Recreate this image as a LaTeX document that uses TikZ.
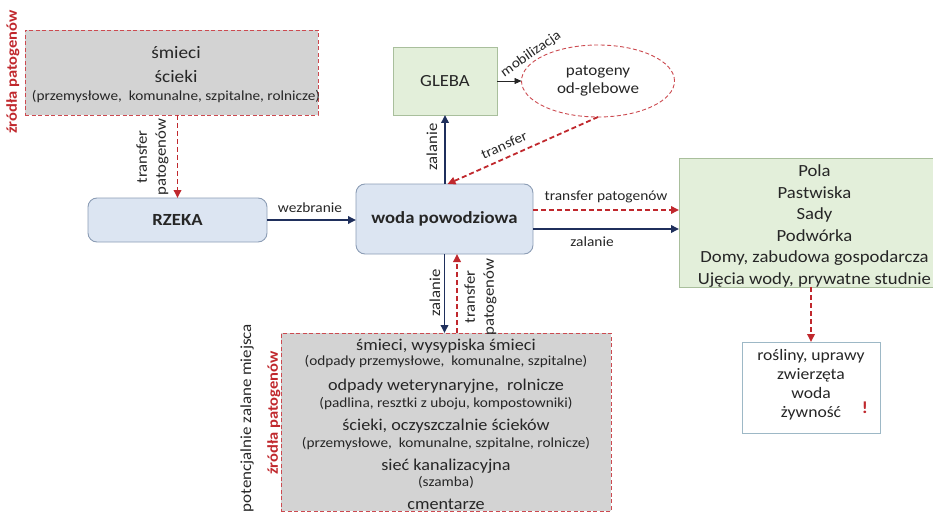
\documentclass[tikz,border=0pt]{standalone}
\usepackage{fontspec}
\setmainfont{Carlito}[FakeStretch=1.1]
\usetikzlibrary{arrows.meta,shapes.geometric,calc}

\definecolor{srcred}{HTML}{C0282D}
\definecolor{srcedge}{HTML}{CC4A50}
\definecolor{navy}{HTML}{1F2F5C}
\definecolor{boxgray}{HTML}{D3D3D3}
\definecolor{waterblue}{HTML}{DCE5F2}
\definecolor{waterline}{HTML}{8C9DB5}
\definecolor{soilgreen}{HTML}{E3EFDA}
\definecolor{soilline}{HTML}{A9BF9C}
\definecolor{cropline}{HTML}{9DB8C6}
\definecolor{ink}{HTML}{262626}

\newcommand\fsz[2]{\fontsize{#1}{#2}\selectfont}

\begin{document}
\begin{tikzpicture}[x=1pt,y=-1pt,
  every node/.style={inner sep=0pt, outer sep=0pt, text=ink},
  srcbox/.style={draw=srcedge, line width=0.9pt, dash pattern=on 4pt off 2.5pt, fill=boxgray},
  waterbox/.style={draw=waterline, line width=0.9pt, fill=waterblue, rounded corners=9pt},
  soilbox/.style={draw=soilline, line width=0.8pt, fill=soilgreen},
  big/.style={font=\fsz{16.5}{20}},
  small/.style={font=\fsz{13.9}{16}},
  lbl/.style={font=\fsz{14}{19}, align=center},
  vlbl/.style={font=\fsz{15.2}{19}, align=center, rotate=90},
  srclabel/.style={font=\fsz{15}{18}\bfseries, text=srcred},
  navyflow/.style={draw=navy, line width=1.8pt, -{Triangle[length=8pt,width=7.5pt]}},
  redflow/.style={draw=srcred, line width=1.8pt, dash pattern=on 5pt off 3pt, -{Triangle[length=8pt,width=7.5pt]}},
  thinflow/.style={draw=ink, line width=0.6pt, -{Triangle[length=7pt,width=6pt]}}]

\useasboundingbox (0,0) rectangle (933,513);

% pathogen sources upstream
\node[srcbox, minimum width=293pt, minimum height=85pt] (topsrc) at (171.5,72.5) {};
\node[font=\fsz{17.5}{20}] (t1) at (176,53) {śmieci};
\node[font=\fsz{17.5}{20}] (t2) at (176,76) {ścieki};
\node[small] (t3) at (176,97) {(przemysłowe,\ \ komunalne, szpitalne, rolnicze)};
\node[srclabel, rotate=90] (src1) at (13,72) {źródła patogenów};

% river and flood water
\node[waterbox, minimum width=179pt, minimum height=44pt, font=\fsz{17}{20}\bfseries] (rzeka) at (177.5,220) {RZEKA};
\node[waterbox, minimum width=177pt, minimum height=70pt, font=\fsz{17}{20}\bfseries] (woda) at (444.5,219) {woda powodziowa};

% soil and soil-borne pathogens
\node[soilbox, minimum width=104pt, minimum height=68pt, font=\fsz{17}{20}] (gleba) at (445,81) {GLEBA};
\node[ellipse, draw=srcedge, line width=0.9pt, dash pattern=on 4pt off 2.5pt, fill=white,
      minimum width=153pt, minimum height=72pt] (patog) at (598,81) {};
\node[align=center, font=\fsz{15.5}{18}] (patogtxt) at (598,81) {patogeny\\od-glebowe};

% flooded areas
\node[soilbox, minimum width=271pt, minimum height=129pt] (fields) at (814.5,222.5) {};
\node[align=center, font=\fsz{17}{21.6}] (fieldtxt) at (814.5,226)
  {Pola\\Pastwiska\\Sady\\Podwórka\\Domy, zabudowa gospodarcza\\Ujęcia wody, prywatne studnie};

% exposed goods
\node[draw=cropline, line width=0.8pt, fill=white, minimum width=138pt, minimum height=91pt] (crops) at (811,387.5) {};
\node[align=center, font=\fsz{16}{19}] (croptxt) at (811,384.5) {rośliny, uprawy\\zwierzęta\\woda\\żywność};
\node[font=\fsz{17}{20}\bfseries, text=srcred] (warn) at (865,408) {!};

% potentially flooded sources
\node[srcbox, minimum width=330pt, minimum height=178pt] (sources) at (446,422) {};
\node[big]   (b1) at (446,346) {śmieci, wysypiska śmieci};
\node[small] (b2) at (446,362) {(odpady przemysłowe,\ \ komunalne, szpitalne)};
\node[big]   (b3) at (446,386) {odpady\ weterynaryjne,\ \ rolnicze};
\node[small] (b4) at (446,404) {(padlina, resztki z uboju, kompostowniki)};
\node[big]   (b5) at (446,426) {ścieki, oczyszczalnie ścieków};
\node[small] (b6) at (446,444) {(przemysłowe,\ \ komunalne, szpitalne, rolnicze)};
\node[big]   (b7) at (446,466) {sieć kanalizacyjna};
\node[small] (b8) at (446,482) {(szamba)};
\node[big]   (b9) at (446,504) {cmentarze};
\node[rotate=90, font=\fsz{15.4}{19}] (pot) at (247,418) {potencjalnie zalane miejsca};
\node[srclabel, rotate=90] (src2) at (274,413) {źródła patogenów};

% connectors
\draw[redflow] (rzeka.north |- topsrc.south) -- (rzeka.north);
\node[vlbl] (ltop) at (152.5,157) {transfer\\patogenów};

\draw[navyflow] (rzeka.east) -- (rzeka.east -| woda.west);
\node[lbl] (lwez) at (310,208) {wezbranie};

\draw[navyflow] (woda.north -| gleba.south) -- (gleba.south);
\node[vlbl] (lzal1) at (432,147) {zalanie};

\draw[thinflow] (gleba.east) -- (patog.west);
\node[lbl, rotate=35] (lmob) at (531,54) {mobilizacja};

\draw[redflow] (patog.south) -- ($(woda.north)+(3,0)$);
\node[lbl, rotate=24] (ltr) at (504,145) {transfer};

\draw[redflow] ($(woda.east)+(0,-9)$) -- ($(fields.west)+(0,-12.5)$);
\node[lbl] (ltp) at (606,197) {transfer patogenów};
\draw[navyflow] ($(woda.east)+(0,10)$) -- ($(fields.west)+(0,6.5)$);
\node[lbl] (lzal2) at (592,242) {zalanie};

\draw[navyflow] (woda.south) -- (woda.south |- sources.north);
\node[vlbl] (lzal3) at (435,293) {zalanie};
\draw[redflow] ($(sources.north)+(11,0)$) -- ($(woda.south)+(12.5,0)$);
\node[vlbl] (lbot) at (480.5,297) {transfer\\patogenów};

\draw[redflow] (crops.north |- fields.south) -- (crops.north);
\end{tikzpicture}
\end{document}
